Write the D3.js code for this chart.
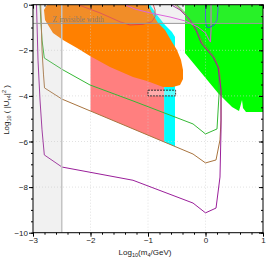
<!DOCTYPE html>
<html>
<head>
<meta charset="utf-8">
<script src="https://cdn.jsdelivr.net/npm/d3@7"></script>
<style>
  body { margin: 0; background: #fff; }
  svg { display: block; }
  text { font-family: "Liberation Sans", Arial, sans-serif; }
</style>
</head>
<body>
<div id="chart"></div>
<script>
// axis ticks
var xTicks = [-3, -2, -1, 0, 1];
var yTicks = [-10, -8, -6, -4, -2, 0];

// excluded / allowed regions, [log10 m4, log10 |U|^2]
var orangeRegion = [[-2.757,0],[-1.0,0],[-0.93,-0.36],[-0.826,-0.8],[-0.704,-1.11],[-0.583,-1.64],[-0.496,-1.99],
  [-0.426,-2.43],[-0.391,-2.86],[-0.391,-3.26],[-0.443,-3.52],[-0.565,-3.61],[-0.739,-3.61],[-1.017,-3.35],
  [-1.261,-3.17],[-1.661,-2.73],[-2.009,-2.25],[-2.235,-1.9],[-2.478,-1.55],[-2.652,-1.24],[-2.791,-0.67],[-2.809,-0.23]];
var cyanEdge = [[-1.1,0],[-0.965,0],[-0.843,-0.45],[-0.704,-0.89],[-0.583,-1.2],[-0.53,-1.42]];
var cyanRange = [-0.72, -0.53];
var pinkRange = [-2, -0.72];
var greenRegion = [[-0.357,0],[-0.357,-2.12],[0.217,-3.87],[0.461,-4.49],[0.583,-4.66],[0.617,-4.36],
  [0.635,-4.18],[0.652,-4.53],[0.704,-4.71],[1,-4.71],[1,0]];

// curves
var greenLine = [[-2.878,0],[-2.843,-1.55],[-2.803,-2.34],[-2.478,-2.86],[-2.009,-3.52],[-1.261,-4.22],[-0.217,-5.23],
  [0,-5.67],[0.2,-5.45],[0.235,-3.96],[0.23,-2.8],[0.16,-2.3],[-0.02,-1.7],[-0.14,-1.15],[-0.25,-0.7],[-0.38,-0.28],[-0.5,0]];
var brownLine = [[-2.866,0],[-2.843,-1.99],[-2.817,-3.08],[-2.8,-3.65],[-2.496,-4.14],[-0.217,-6.55],[0,-6.94],
  [0.183,-6.81],[0.252,-5.93],[0.27,-5.06],[0.27,-3.74],[0.24,-2.8],[0.15,-2.33],[-0.04,-1.75],[-0.155,-1.18],
  [-0.26,-0.74],[-0.4,-0.3],[-0.53,0]];
var purpleLine = [[-2.939,0],[-2.913,-2.43],[-2.878,-4.18],[-2.843,-5.49],[-2.803,-6.59],[-2.496,-7.12],[-1.261,-7.7],
  [-0.217,-8.7],[0,-9.13],[0.183,-8.92],[0.252,-7.56],[0.27,-5.49],[0.27,-3.74],[0.217,-2.73],[0.13,-2.29],
  [-0.078,-1.68],[-0.165,-1.11],[-0.27,-0.67],[-0.443,-0.23],[-0.6,0]];
var magentaLine = [[-1.4,0],[-1.226,-0.19],[-0.965,-0.36],[-0.617,-0.54],[-0.357,-0.71],[-0.13,-0.98],[0,-1.24],
  [0.061,-1.55],[0.087,-1.64],[0.096,-1.11],[0.096,0]];
var redLine = [[-2.217,0],[-1.835,-0.36],[-1.487,-0.75],[-1.313,-0.89],[-1.087,-0.86],[-0.936,-0.75],[-0.878,-0.53],
  [-0.878,-0.23],[-0.908,0]];
var blueLine = [[0,0],[0,-0.67],[0.017,-0.98],[0.07,-1.0],[0.148,-0.89],[0.2,-0.67],[0.217,-0.23],[0.217,0]];

var boxX = [-1.0, -0.52], boxY = [-3.75, -4.0];
var zWidthLimit = -0.82;
var lowMassCut = -2.5;

var width = 266, height = 259;
var x = d3.scaleLinear().domain([-3, 1]).range([33, 263]);
var y = d3.scaleLinear().domain([-10, 0]).range([232.7, 4.7]);

var svg = d3.select("#chart").append("svg")
  .attr("width", width)
  .attr("height", height);

svg.append("clipPath").attr("id", "plot")
  .append("rect")
  .attr("x", x(-3)).attr("y", y(0))
  .attr("width", x(1) - x(-3)).attr("height", y(-10) - y(0));

var line = d3.line().x(function(d){ return x(d[0]); }).y(function(d){ return y(d[1]); });

// y of a curve at a given x, on its first rising stretch
function yAt(curve, xv) {
  for (var i = 0; i < curve.length - 1; i++) {
    var a = curve[i], b = curve[i + 1];
    if (a[0] <= xv && xv <= b[0]) return a[1] + (b[1] - a[1]) * (xv - a[0]) / (b[0] - a[0]);
  }
  return 0;
}

var g = svg.append("g").attr("clip-path", "url(#plot)");

// cyan band
var cyanPoly = cyanEdge.concat([[cyanRange[1], yAt(brownLine, cyanRange[1])],
  [cyanRange[0], yAt(brownLine, cyanRange[0])], [cyanRange[0], -2.5], [-1.0, -1.0]]);
g.append("path").attr("d", line(cyanPoly) + "Z").attr("fill", "#00ffff");

// pink band
var pinkPoly = [[pinkRange[0], -2], [pinkRange[1], -3],
  [pinkRange[1], yAt(brownLine, pinkRange[1])], [pinkRange[0], yAt(brownLine, pinkRange[0])]];
g.append("path").attr("d", line(pinkPoly) + "Z").attr("fill", "#ff7f7f");

// orange blob
g.append("path")
  .attr("d", d3.line().x(function(d){ return x(d[0]); }).y(function(d){ return y(d[1]); })
    .curve(d3.curveLinearClosed)(orangeRegion))
  .attr("fill", "#ff8000");

// green region
g.append("path").attr("d", line(greenRegion) + "Z").attr("fill", "#00ff00");

// faint grid
g.selectAll("line.gx").data([-2, -1, 0]).enter().append("line")
  .attr("x1", function(d){ return x(d); }).attr("x2", function(d){ return x(d); })
  .attr("y1", y(0)).attr("y2", y(-10))
  .attr("stroke", "#cfcfcf").attr("stroke-width", 0.6).attr("stroke-dasharray", "1,2");
g.selectAll("line.gy").data([-2, -4, -6, -8]).enter().append("line")
  .attr("y1", function(d){ return y(d); }).attr("y2", function(d){ return y(d); })
  .attr("x1", x(-3)).attr("x2", x(1))
  .attr("stroke", "#cfcfcf").attr("stroke-width", 0.6).attr("stroke-dasharray", "1,2");

// curves
var curves = [
  [greenLine, "#35b835"],
  [brownLine, "#a8743f"],
  [purpleLine, "#9a1f9a"],
  [redLine, "#e8403c"],
  [magentaLine, "#e44fe4"],
  [blueLine, "#3552de"]
];
curves.forEach(function(c) {
  g.append("path").attr("d", line(c[0]))
    .attr("fill", "none").attr("stroke", c[1]).attr("stroke-width", 1);
});

// dashed box
g.append("rect")
  .attr("x", x(boxX[0])).attr("y", y(boxY[0]))
  .attr("width", x(boxX[1]) - x(boxX[0])).attr("height", y(boxY[1]) - y(boxY[0]))
  .attr("fill", "rgba(255,255,255,0.35)")
  .attr("stroke", "#222").attr("stroke-width", 0.9).attr("stroke-dasharray", "2,1");

// gray overlays (left cut + Z width band), one path so they don't stack
var ov = "M" + x(-3) + "," + y(0) + "H" + x(lowMassCut) + "V" + y(-10) + "H" + x(-3) + "Z" +
  "M" + x(-3) + "," + y(0) + "H" + x(1) + "V" + y(zWidthLimit) + "H" + x(-3) + "Z";
g.append("path").attr("d", ov).attr("fill", "rgba(190,190,190,0.21)");

g.append("line")
  .attr("x1", x(lowMassCut)).attr("x2", x(lowMassCut)).attr("y1", y(0)).attr("y2", y(-10))
  .attr("stroke", "#c4c4c4").attr("stroke-width", 1.5);
g.append("line")
  .attr("x1", x(-3)).attr("x2", x(1)).attr("y1", y(zWidthLimit)).attr("y2", y(zWidthLimit))
  .attr("stroke", "#9a9a9a").attr("stroke-width", 1);

g.append("text")
  .attr("x", x(-2.66)).attr("y", y(-0.76))
  .style("font-family", "'Liberation Serif', 'DejaVu Serif', serif")
  .attr("font-size", 7.5).attr("fill", "#8c7b6c")
  .text("Z invisible width");

// axes
function styleAxis(sel) {
  sel.select(".domain").remove();
  sel.selectAll("text").attr("font-size", 8).attr("fill", "#222")
    .style("font-family", "'Liberation Sans', Arial, sans-serif");
  sel.selectAll("line").attr("stroke", "#000");
}
var fmt = d3.format("d");
var xMinor = d3.range(0, 21).map(function(i){ return -3 + i * 0.2; });
var yMinor = d3.range(0, 21).map(function(i){ return -10 + i * 0.5; });

svg.append("g").attr("transform", "translate(0," + y(-10) + ")")
  .call(d3.axisBottom(x).tickValues(xMinor).tickSize(2).tickFormat("")).call(styleAxis);
svg.append("g").attr("transform", "translate(0," + y(-10) + ")")
  .call(d3.axisBottom(x).tickValues(xTicks).tickSize(4).tickPadding(1).tickFormat(fmt)).call(styleAxis);
svg.append("g").attr("transform", "translate(" + x(-3) + ",0)")
  .call(d3.axisLeft(y).tickValues(yMinor).tickSize(2).tickFormat("")).call(styleAxis);
svg.append("g").attr("transform", "translate(" + x(-3) + ",0)")
  .call(d3.axisLeft(y).tickValues(yTicks).tickSize(4).tickPadding(1).tickFormat(fmt)).call(styleAxis);
// inward ticks on top and right
svg.append("g").attr("transform", "translate(0," + y(0) + ")")
  .call(d3.axisBottom(x).tickValues(xMinor).tickSize(2).tickFormat("")).call(styleAxis);
svg.append("g").attr("transform", "translate(0," + y(0) + ")")
  .call(d3.axisBottom(x).tickValues(xTicks).tickSize(4).tickFormat("")).call(styleAxis);
svg.append("g").attr("transform", "translate(" + x(1) + ",0)")
  .call(d3.axisLeft(y).tickValues(yMinor).tickSize(2).tickFormat("")).call(styleAxis);
svg.append("g").attr("transform", "translate(" + x(1) + ",0)")
  .call(d3.axisLeft(y).tickValues(yTicks).tickSize(4).tickFormat("")).call(styleAxis);

svg.append("rect")
  .attr("x", x(-3)).attr("y", y(0))
  .attr("width", x(1) - x(-3)).attr("height", y(-10) - y(0))
  .attr("fill", "none").attr("stroke", "#000").attr("stroke-width", 1);

// axis titles
var xt = svg.append("text").attr("x", 145).attr("y", 255)
  .attr("text-anchor", "middle").attr("font-size", 8).attr("fill", "#222");
xt.append("tspan").text("Log");
xt.append("tspan").attr("font-size", 5.5).attr("dy", 2).text("10");
xt.append("tspan").attr("dy", -2).text("(m");
xt.append("tspan").attr("font-size", 5.5).attr("dy", 2).text("4");
xt.append("tspan").attr("dy", -2).text("/GeV)");

var yt = svg.append("text").attr("transform", "translate(9,110) rotate(-90)")
  .attr("text-anchor", "middle").attr("font-size", 8).attr("fill", "#222");
yt.append("tspan").text("Log");
yt.append("tspan").attr("font-size", 5.5).attr("dy", 2).text("10");
yt.append("tspan").attr("dy", -2).text(" ( |U");
yt.append("tspan").attr("font-size", 5.5).attr("dy", 2).text("τ4");
yt.append("tspan").attr("dy", -2).text("|");
yt.append("tspan").attr("font-size", 5.5).attr("dy", -3).text("2");
yt.append("tspan").attr("dy", 3).text(" )");
</script>
</body>
</html>
